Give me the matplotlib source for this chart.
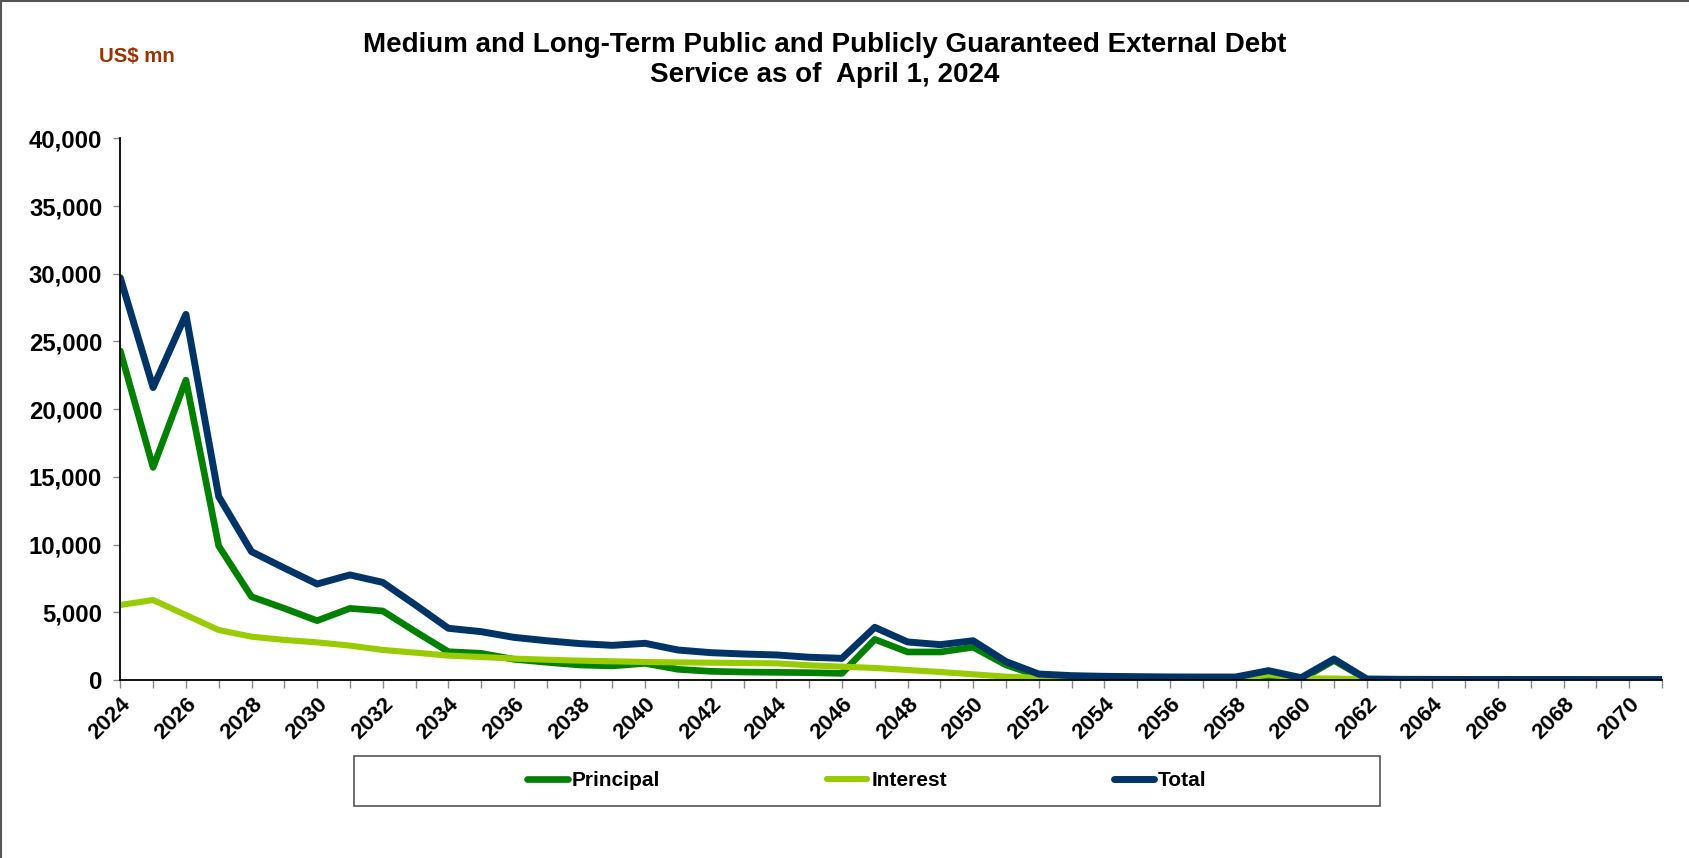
import matplotlib
matplotlib.use("Agg")
import matplotlib.pyplot as plt
from matplotlib.lines import Line2D
from matplotlib.patches import Rectangle
from matplotlib.ticker import FuncFormatter, MultipleLocator

plt.rcParams['font.family'] = ['Liberation Sans', 'DejaVu Sans']
plt.rcParams['font.weight'] = 'bold'

years = list(range(2024, 2072))
principal = [24300, 15700, 22150, 9900, 6150, 5290, 4380, 5290, 5100, 3570,
             2090, 1970, 1530, 1310, 1110, 1040, 1230, 790, 640, 590,
             565, 540, 490, 3000, 2070, 2070, 2420, 1110, 290, 230,
             200, 185, 175, 180, 180, 290, 50, 1440, 45, 45,
             40, 35, 35, 30, 30, 25, 25, 25]
interest = [5540, 5910, 4800, 3690, 3200, 2960, 2780, 2540, 2220, 2020,
            1800, 1700, 1580, 1500, 1430, 1380, 1330, 1300, 1280, 1255,
            1230, 1085, 985, 890, 740, 590, 420, 250, 150, 90,
            70, 60, 50, 40, 40, 400, 120, 110, 30, 5,
            5, 5, 5, 5, 5, 5, 5, 5]
total = [29700, 21600, 27000, 13550, 9480, 8270, 7090, 7760, 7210, 5540,
         3820, 3570, 3150, 2900, 2690, 2560, 2710, 2215, 2020, 1920,
         1850, 1680, 1600, 3890, 2810, 2610, 2900, 1360, 440, 320,
         270, 245, 225, 220, 220, 690, 170, 1550, 75, 50,
         45, 40, 40, 35, 35, 30, 30, 30]
series_names = ["Principal", "Interest", "Total"]
colors = ["#008000", "#99CC00", "#003366"]

W, H = 1690, 858
fig = plt.figure(figsize=(W / 100, H / 100), dpi=100)
ax = fig.add_axes([120.3 / W, 1 - 680 / H, (1662 - 120.3) / W, (680 - 138.4) / H])

for vals, name, c, lw in zip([principal, interest, total], series_names, colors, [4.8, 4.4, 5.0]):
    ax.plot(years, vals, color=c, lw=lw, label=name,
            solid_joinstyle='round', solid_capstyle='round')

ax.set_xlim(2024, 2071)
ax.set_ylim(0, 40000)
ax.yaxis.set_major_locator(MultipleLocator(5000))
ax.yaxis.set_major_formatter(FuncFormatter(lambda v, p: f"{int(v):,}"))
ax.set_xticks(years)
ax.set_xticklabels([str(y) if (y - 2024) % 2 == 0 else "" for y in years],
                   rotation=45, ha='right', va='top', rotation_mode='anchor',
                   fontsize=16, fontweight='bold')
for lab in ax.get_yticklabels():
    lab.set_fontsize(17.2)
    lab.set_fontweight('bold')
ax.tick_params(axis='y', length=5, width=1, color='#888888', pad=8)
ax.tick_params(axis='x', length=6, width=1, color='#888888', pad=4)
for s in ['top', 'right']:
    ax.spines[s].set_visible(False)
for s in ['left', 'bottom']:
    ax.spines[s].set_color('black')
    ax.spines[s].set_linewidth(1.3)

# Title and unit label
fig.text(824.5 / W, 1 - 45 / H, "Medium and Long-Term Public and Publicly Guaranteed External Debt",
         ha='center', va='center', fontsize=20, fontweight='bold')
fig.text(824.5 / W, 1 - 75 / H, "Service as of  April 1, 2024",
         ha='center', va='center', fontsize=20, fontweight='bold')
fig.text(99 / W, 1 - 57 / H, "US$ mn", ha='left', va='center', fontsize=14.7,
         fontweight='bold', color='#993300')

# Legend box
fig.patches.append(Rectangle((354 / W, 1 - 806 / H), (1380 - 354) / W, 50 / H,
                             transform=fig.transFigure, fill=False,
                             edgecolor='#555555', lw=1.2))
leg = fig.legend(loc='center', bbox_to_anchor=(867 / W, 1 - 781 / H), ncol=3,
                 frameon=False, fontsize=15, handlelength=1.95, handletextpad=0.18,
                 columnspacing=8.0)
for t in leg.get_texts():
    t.set_fontweight('bold')

# Figure border (top and left)
fig.add_artist(Line2D([0.6 / W, 0.6 / W], [0, 1], transform=fig.transFigure, color='#555555', lw=1.5))
fig.add_artist(Line2D([0, 1], [1 - 1.2 / H, 1 - 1.2 / H], transform=fig.transFigure, color='#555555', lw=1.5))

fig.savefig("out.png", dpi=100)
